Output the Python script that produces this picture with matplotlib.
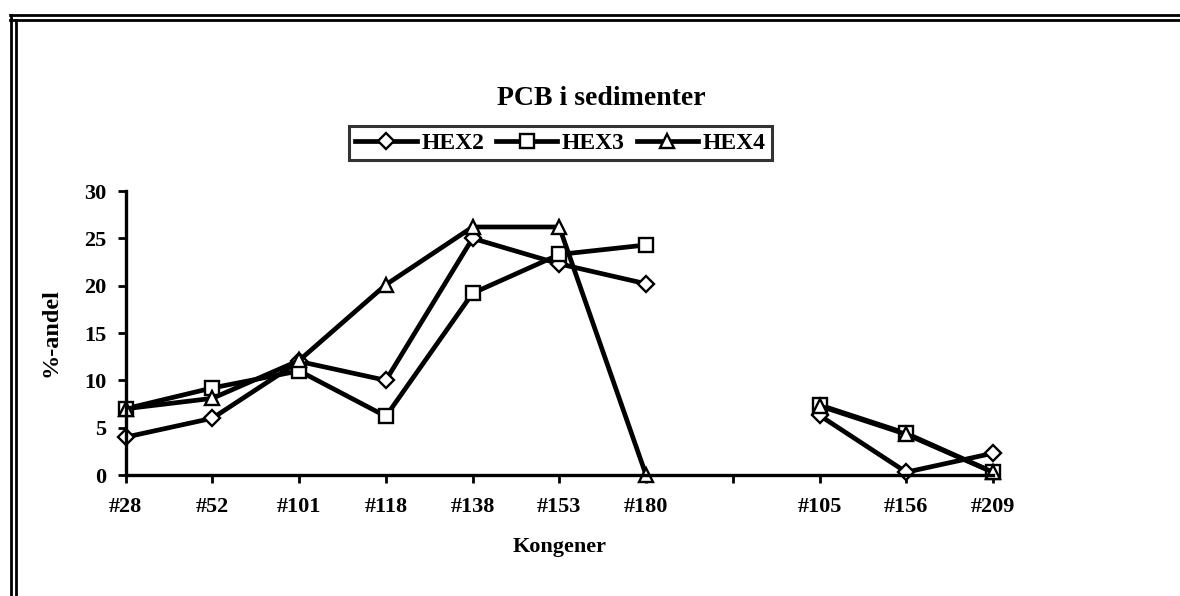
import numpy as np
import matplotlib.pyplot as plt
from matplotlib.lines import Line2D

# Data (blank category between #180 and #105)
kongener = ["#28", "#52", "#101", "#118", "#138", "#153", "#180", "", "#105", "#156", "#209"]
hex2 = [4.0, 6.0, 12.0, 10.0, 25.0, 22.3, 20.2, np.nan, 6.3, 0.3, 2.3]
hex3 = [7.0, 9.2, 11.0, 6.2, 19.2, 23.3, 24.3, np.nan, 7.4, 4.4, 0.3]
hex4 = [7.0, 8.1, 12.1, 20.1, 26.2, 26.2, 0.0, np.nan, 7.3, 4.3, 0.3]

plt.rcParams['font.family'] = ['Liberation Serif', 'DejaVu Serif']
plt.rcParams['font.weight'] = 'bold'

fig = plt.figure(figsize=(11.8, 5.96), dpi=100)
ax = fig.add_axes([0.1065, 0.203, 0.735, 0.4765])

x = np.arange(len(kongener))
style = dict(color='black', lw=3.4, markerfacecolor='white',
             markeredgecolor='black', markeredgewidth=1.7, clip_on=False)
ax.plot(x, hex2, marker='D', markersize=8, label="HEX2", **style)
ax.plot(x, hex3, marker='s', markersize=10.5, label="HEX3", **style)
ax.plot(x, hex4, marker='^', markersize=10.5, label="HEX4", **style)

ax.set_xlim(0, len(kongener) - 1)
ax.set_ylim(0, 30)
ax.set_yticks(range(0, 31, 5))
ax.set_xticks(x)
ax.set_xticklabels(kongener)
ax.tick_params(axis='both', labelsize=16, width=2, length=6, direction='out')
ax.tick_params(axis='x', pad=10)
ax.tick_params(axis='y', pad=8)
for side in ['top', 'right']:
    ax.spines[side].set_visible(False)
for side in ['left', 'bottom']:
    ax.spines[side].set_linewidth(2.4)

ax.set_xlabel("Kongener", fontsize=16, fontweight='bold', labelpad=14)
ax.set_ylabel("%-andel", fontsize=17.5, fontweight='bold', labelpad=16)

fig.text(0.51, 0.835, "PCB i sedimenter", ha='center', va='center',
         fontsize=20, fontweight='bold')

leg = fig.legend(loc='center', bbox_to_anchor=(0.475, 0.76), ncol=3,
                 frameon=True, fancybox=False, fontsize=17, handlelength=2.6,
                 handletextpad=0.2, columnspacing=0.5, borderpad=0.25,
                 borderaxespad=0)
leg.get_frame().set_edgecolor('black')
leg.get_frame().set_linewidth(2.2)

# double border of the chart area (cut off at right and bottom)
for y in [1 - 15 / 596, 1 - 20 / 596]:
    fig.add_artist(Line2D([10 / 1180, 1], [y, y], color='black', lw=2))
for xx, ytop in [(11 / 1180, 15 / 596), (16 / 1180, 20 / 596)]:
    fig.add_artist(Line2D([xx, xx], [0, 1 - ytop], color='black', lw=2))

fig.savefig("out.png", dpi=100)
